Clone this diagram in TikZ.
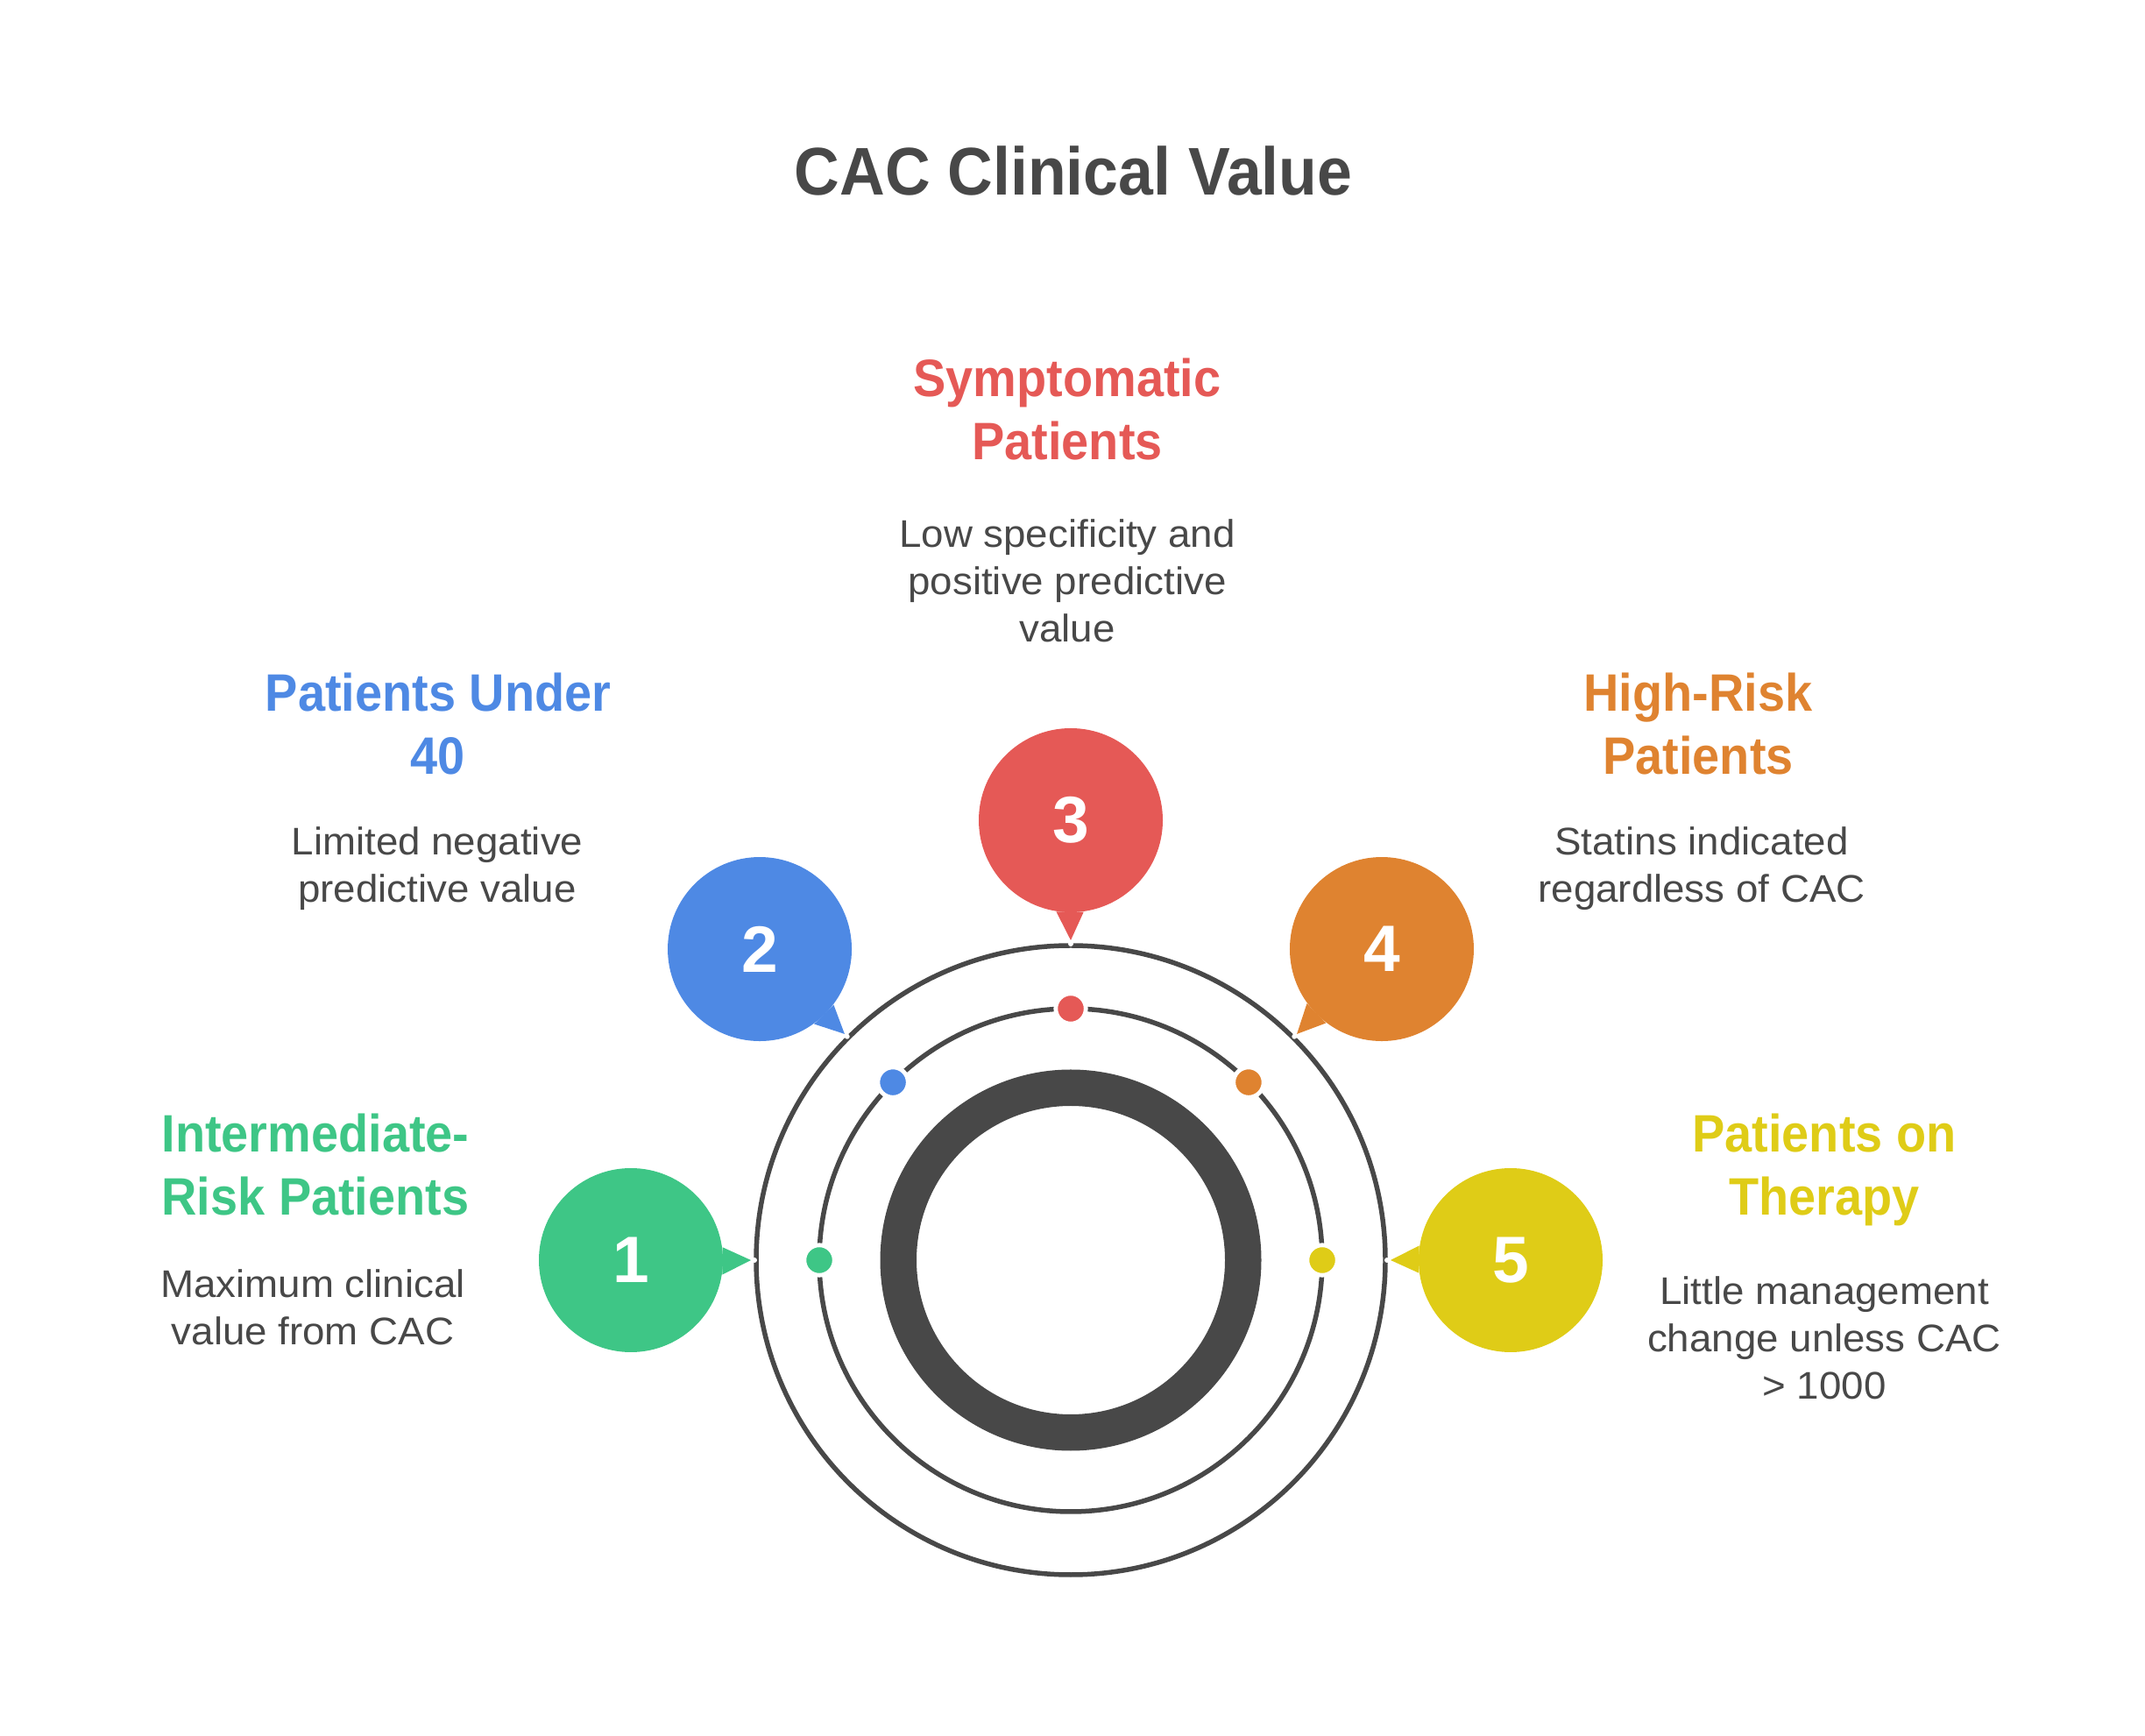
\documentclass[tikz,border=0pt]{standalone}
\usepackage{fontspec}
\setmainfont{Liberation Sans}
\newfontfamily\headfont{Liberation Sans}[FakeStretch=0.93]
\newfontfamily\bodyfont{Liberation Sans}[FakeStretch=1.04]
\usetikzlibrary{calc}
\definecolor{ink}{HTML}{484848}
\definecolor{cgreen}{HTML}{3EC686}
\definecolor{cblue}{HTML}{4E89E4}
\definecolor{cred}{HTML}{E55956}
\definecolor{corange}{HTML}{DF8330}
\definecolor{cyellow}{HTML}{DFCC17}
\begin{document}
\begin{tikzpicture}[
  bubble/.style={circle,inner sep=0pt,minimum size=2.1cm,text=white,
    font=\fontsize{21.3}{24}\selectfont\bfseries},
  marker/.style={circle,inner sep=0pt,minimum size=0.344cm,draw=white,line width=0.048cm},
  heading/.style={align=center,anchor=base,inner sep=0pt,
    font=\headfont\fontsize{17.1}{20.5}\selectfont\bfseries},
  blurb/.style={align=center,anchor=base,inner sep=0pt,text=ink,
    font=\bodyfont\fontsize{12.5}{15.4}\selectfont}]
  \useasboundingbox (0,0) rectangle (24.48,19.80);
  \coordinate (c) at (12.22,5.42);
  \node[anchor=base,inner sep=0pt,text=ink,font=\headfont\fontsize{21.9}{26}\selectfont\bfseries]
    (title) at (12.25,17.57) {CAC Clinical Value};
  % rings
  \draw[ink,line width=0.055cm] (c) circle (3.59);
  \draw[ink,line width=0.055cm] (c) circle (2.87);
  \draw[ink,line width=0.415cm] (c) circle (1.9675);
  % notches where the tails touch the outer ring
  \fill[white] ($(c)+(180:3.61)$) circle (0.03);
  \fill[white] ($(c)+(135:3.61)$) circle (0.03);
  \fill[white] ($(c)+(90:3.61)$) circle (0.03);
  \fill[white] ($(c)+(45:3.61)$) circle (0.03);
  \fill[white] ($(c)+(0:3.61)$) circle (0.03);
  % markers on the middle ring
  \node[marker,fill=cgreen] (d1) at ($(c)+(180:2.87)$) {};
  \node[marker,fill=cblue] (d2) at ($(c)+(135:2.87)$) {};
  \node[marker,fill=cred] (d3) at ($(c)+(90:2.87)$) {};
  \node[marker,fill=corange] (d4) at ($(c)+(45:2.87)$) {};
  \node[marker,fill=cyellow] (d5) at ($(c)+(0:2.87)$) {};
  % numbered bubbles
  \node[bubble,fill=cgreen] (b1) at ($(c)+(180:5.02)$) {1};
  \node[bubble,fill=cblue] (b2) at ($(c)+(135:5.02)$) {2};
  \node[bubble,fill=cred] (b3) at ($(c)+(90:5.02)$) {3};
  \node[bubble,fill=corange] (b4) at ($(c)+(45:5.02)$) {4};
  \node[bubble,fill=cyellow] (b5) at ($(c)+(0:5.02)$) {5};
  \coordinate (k1) at ($(c)+(180:3.65)$);
  \coordinate (k2) at ($(c)+(135:3.65)$);
  \coordinate (k3) at ($(c)+(90:3.65)$);
  \coordinate (k4) at ($(c)+(45:3.65)$);
  \coordinate (k5) at ($(c)+(0:3.65)$);
  \fill[cgreen] (k1) -- (b1.8.8) -- (b1.351.2) -- cycle;
  \fill[cblue] (k2) -- (b2.306.2) -- (b2.323.8) -- cycle;
  \fill[cred] (k3) -- (b3.261.2) -- (b3.278.8) -- cycle;
  \fill[corange] (k4) -- (b4.216.2) -- (b4.233.8) -- cycle;
  \fill[cyellow] (k5) -- (b5.171.2) -- (b5.188.8) -- cycle;
  % labels (anchored at the last baseline)
  \node[heading,text=cgreen] (h1) at (3.60,5.93) {Intermediate-\\Risk Patients};
  \node[blurb] (s1) at (3.57,4.45) {Maximum clinical\\value from CAC};
  \node[heading,text=cblue] (h2) at (5.00,10.96) {Patients Under\\40};
  \node[blurb] (s2) at (4.99,9.50) {Limited negative\\predictive value};
  \node[heading,text=cred] (h3) at (12.18,14.55) {Symptomatic\\Patients};
  \node[blurb] (s3) at (12.18,12.47) {Low specificity and\\positive predictive\\value};
  \node[heading,text=corange] (h4) at (19.38,10.96) {High-Risk\\Patients};
  \node[blurb] (s4) at (19.42,9.50) {Statins indicated\\regardless of CAC};
  \node[heading,text=cyellow] (h5) at (20.82,5.93) {Patients on\\Therapy};
  \node[blurb] (s5) at (20.82,3.83) {Little management\\change unless CAC\\> 1000};
\end{tikzpicture}
\end{document}
